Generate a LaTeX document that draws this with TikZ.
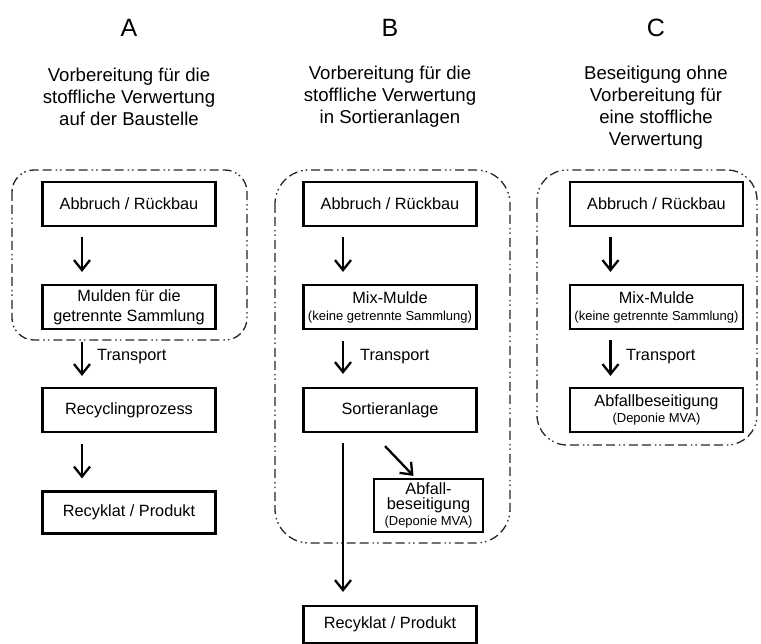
\documentclass[tikz,border=0pt]{standalone}
\usepackage{fontspec}
\setmainfont{Liberation Sans}
\usetikzlibrary{arrows.meta}
\newcommand\boxfont{\fontsize{16.3}{20}\selectfont}
\newcommand\smallfont{\fontsize{13}{15}\selectfont}
\newcommand\headfont{\fontsize{18.6}{22}\selectfont}
\newcommand\letterfont{\fontsize{25}{30}\selectfont}
\begin{document}
\begin{tikzpicture}[x=1pt,y=-1pt,
  box/.style={draw, line width=2.2pt, minimum width=173pt, minimum height=44pt,
    inner sep=2pt, align=center, font=\boxfont},
  arr/.style={line width=2.3pt, -{Straight Barb[length=10pt,width=16pt]}},
  zone/.style={draw=black!85, line width=1.3pt, rounded corners=#1,
    dash pattern=on 9pt off 4pt on 9pt off 4pt on 1.5pt off 3pt on 1.5pt off 4pt},
  head/.style={align=center, font=\headfont, inner sep=0pt},
  letter/.style={font=\letterfont, inner sep=0pt},
  lbl/.style={anchor=west, font=\boxfont, inner sep=0pt}]
\useasboundingbox (0,0) rectangle (761,644);

% column headings
\node[letter] (lA) at (129,28) {A};
\node[letter] (lB) at (390,28) {B};
\node[letter] (lC) at (656,28) {C};
\node[head] (hA) at (129,97) {Vorbereitung für die\\stoffliche Verwertung\\auf der Baustelle};
\node[head] (hB) at (390,97) {Vorbereitung für die\\stoffliche Verwertung\\in Sortieranlagen};
\node[head] (hC) at (656,108) {Beseitigung ohne\\Vorbereitung für\\eine stoffliche\\Verwertung};

% dashed site boundaries
\draw[zone=22pt] (12,170) rectangle (247,340);
\draw[zone=34pt] (275,170) rectangle (510,543);
\draw[zone=30pt] (537,170) rectangle (757,445);

% column A
\node[box] (abA) at (129,204) {Abbruch / Rückbau};
\node[box] (muA) at (129,307) {Mulden für die\\getrennte Sammlung};
\node[box] (reA) at (129,410) {Recyclingprozess};
\node[box, minimum height=42pt] (prA) at (129,512.5) {Recyklat / Produkt};
\draw[arr, shorten <=10pt, shorten >=12pt] ([xshift=-47pt]abA.south) -- ([xshift=-47pt]muA.north);
\draw[arr, shorten <=12pt, shorten >=11pt] ([xshift=-47pt]muA.south) -- ([xshift=-47pt]reA.north);
\draw[arr, shorten <=11pt, shorten >=12pt] ([xshift=-47pt]reA.south) -- ([xshift=-47pt]prA.north);
\node[lbl] (tA) at (97,357) {Transport};

% column B
\node[box] (abB) at (390,204) {Abbruch / Rückbau};
\node[box] (muB) at (390,307) {Mix-Mulde\\[-3pt]{\smallfont (keine getrennte Sammlung)}};
\node[box] (soB) at (390,410) {Sortieranlage};
\node[box, minimum width=109pt, minimum height=53pt, inner sep=1pt] (afB) at (428.5,505.5)
  {Abfall-\\[-5pt]beseitigung\\[-4pt]{\smallfont (Deponie MVA)}};
\node[box, minimum height=37pt] (prB) at (390,624.5) {Recyklat / Produkt};
\draw[arr, shorten <=10pt, shorten >=12pt] ([xshift=-47pt]abB.south) -- ([xshift=-47pt]muB.north);
\draw[arr, shorten <=11pt, shorten >=13pt] ([xshift=-47pt]muB.south) -- ([xshift=-47pt]soB.north);
\draw[arr, shorten <=10pt, shorten >=13pt] ([xshift=-47pt]soB.south) -- ([xshift=-47pt]prB.north);
\draw[arr] ([shift={(-5pt,-13pt)}]soB.south) -- ([shift={(-15pt,2pt)}]afB.north);
\node[lbl] (tB) at (360,357) {Transport};

% column C
\node[box] (abC) at (656.5,204) {Abbruch / Rückbau};
\node[box] (muC) at (656.5,307) {Mix-Mulde\\[-3pt]{\smallfont (keine getrennte Sammlung)}};
\node[box] (afC) at (656.5,410) {Abfallbeseitigung\\[-4pt]{\smallfont (Deponie MVA)}};
\draw[arr, shorten <=10pt, shorten >=12pt] ([xshift=-46pt]abC.south) -- ([xshift=-46pt]muC.north);
\draw[arr, shorten <=10pt, shorten >=11pt] ([xshift=-46pt]muC.south) -- ([xshift=-46pt]afC.north);
\node[lbl] (tC) at (626,357) {Transport};
\end{tikzpicture}
\end{document}
